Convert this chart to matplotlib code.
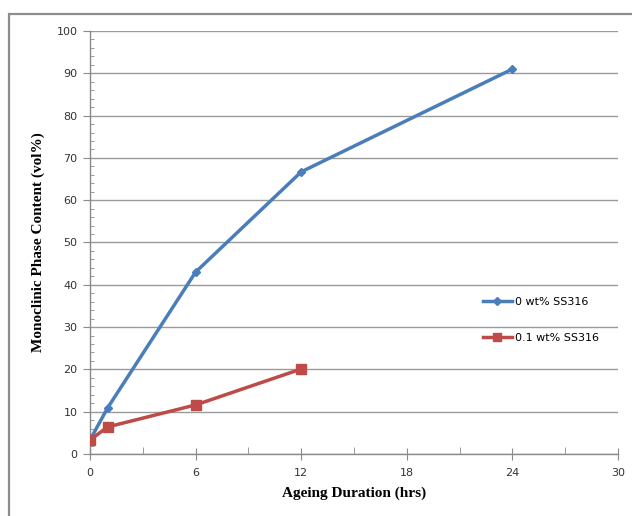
import matplotlib
matplotlib.use("Agg")
import matplotlib.pyplot as plt
from matplotlib.patches import Rectangle
from matplotlib.ticker import MultipleLocator

# Ageing time (hours) and monoclinic phase fraction (vol%)
hours_0 = [0, 1, 6, 12, 24]
mono_0 = [3.3, 10.9, 43.0, 66.7, 91.0]
hours_01 = [0, 1, 6, 12]
mono_01 = [3.3, 6.4, 11.6, 20.1]

label_0 = "0 wt% SS316"
label_01 = "0.1 wt% SS316"

fig = plt.figure(figsize=(6.32, 5.16), dpi=100)
fig.patches.append(Rectangle((9 / 632, -0.01), 1.0, (516 - 14) / 516 + 0.01,
                             transform=fig.transFigure, fill=False,
                             edgecolor="#8c8c8c", linewidth=1.6))

ax = fig.add_axes([90 / 632, 62 / 516, 528 / 632, 423 / 516])

ax.plot(hours_0, mono_0, color="#4a7ebb", linewidth=2.5, marker="D",
        markersize=4.5, markerfacecolor="#4a7ebb", markeredgecolor="#4a7ebb",
        label=label_0, zorder=3)
ax.plot(hours_01, mono_01, color="#be4b48", linewidth=2.5, marker="s",
        markersize=7, markerfacecolor="#be4b48", markeredgecolor="#be4b48",
        label=label_01, zorder=3)

ax.set_xlim(0, 30)
ax.set_ylim(0, 100)
ax.xaxis.set_major_locator(MultipleLocator(6))
ax.xaxis.set_minor_locator(MultipleLocator(3))
ax.yaxis.set_major_locator(MultipleLocator(10))
ax.yaxis.set_minor_locator(MultipleLocator(2))

ax.grid(axis="y", which="major", color="#9a9a9a", linewidth=1.0)
ax.set_axisbelow(True)

for side in ("top", "right"):
    ax.spines[side].set_visible(False)
for side in ("left", "bottom"):
    ax.spines[side].set_color("#8a8a8a")
    ax.spines[side].set_linewidth(1.0)

ax.tick_params(axis="x", which="major", direction="inout", length=8,
               color="#8a8a8a", labelsize=8, pad=6, labelcolor="#333333")
ax.tick_params(axis="x", which="minor", direction="in", length=5,
               color="#8a8a8a")
ax.tick_params(axis="y", which="major", direction="out", length=5,
               color="#8a8a8a", labelsize=8, pad=4, labelcolor="#333333")
ax.tick_params(axis="y", which="minor", direction="in", length=3,
               color="#8a8a8a")

ax.set_xlabel("Ageing Duration (hrs)", family="Liberation Serif",
              fontweight="bold", fontsize=11, labelpad=6)
ax.set_ylabel("Monoclinic Phase Content (vol%)", family="Liberation Serif",
              fontweight="bold", fontsize=11, labelpad=8)

ax.legend(loc="center left", bbox_to_anchor=(0.725, 0.317), frameon=False,
          fontsize=8, labelspacing=2.3, handlelength=2.6, handletextpad=0.3,
          markerscale=0.9)

fig.savefig("out.png", dpi=100)
